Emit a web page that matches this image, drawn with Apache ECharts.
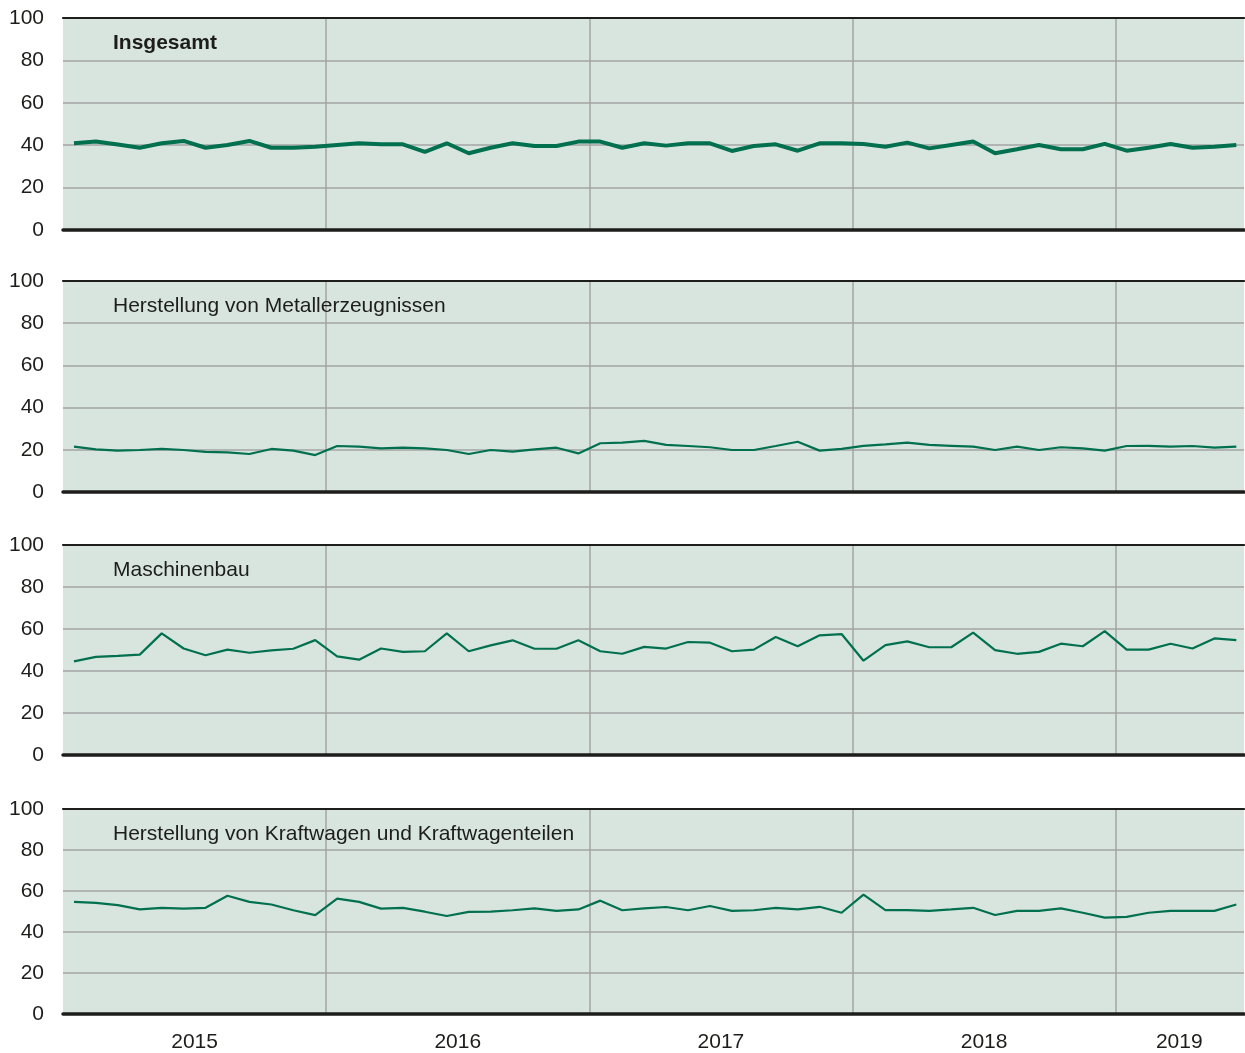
<!DOCTYPE html>
<html>
<head>
<meta charset="utf-8">
<script src="https://cdn.jsdelivr.net/npm/echarts@6/dist/echarts.min.js"></script>
<style>
html,body{margin:0;padding:0;background:#fff;}
#c{width:1245px;height:1053px;}
</style>
</head>
<body>
<div id="c"></div>
<script>
// Monthly values Jan 2015 – Jun 2019 (54 months)
const panelTitles = ['Insgesamt', 'Herstellung von Metallerzeugnissen', 'Maschinenbau', 'Herstellung von Kraftwagen und Kraftwagenteilen'];
const insgesamt = [40.9,41.7,40.3,38.8,40.9,42.0,38.8,40.1,42.0,38.8,38.8,39.3,40.1,40.9,40.4,40.4,36.9,40.9,36.2,38.8,40.9,39.6,39.6,41.7,41.7,38.8,40.9,39.8,40.9,40.9,37.3,39.6,40.4,37.4,40.9,40.9,40.6,39.3,41.2,38.5,40.1,41.7,36.2,38.1,40.1,38.1,38.1,40.6,37.4,38.8,40.6,38.8,39.3,40.1];
const metall = [21.5,20.2,19.6,19.9,20.4,19.9,19.0,18.8,18.0,20.4,19.6,17.5,21.8,21.5,20.7,21.0,20.7,19.9,18.0,19.9,19.1,20.2,21.0,18.3,23.1,23.4,24.2,22.3,21.8,21.2,19.9,19.9,21.8,23.8,19.6,20.4,21.9,22.6,23.4,22.3,21.9,21.5,19.9,21.5,19.9,21.2,20.7,19.6,21.8,21.9,21.5,21.8,21.0,21.5];
const maschinenbau = [44.6,46.7,47.2,47.8,57.9,50.7,47.5,50.2,48.7,49.8,50.6,54.7,47.0,45.4,50.7,49.1,49.4,57.9,49.4,52.2,54.6,50.6,50.6,54.6,49.4,48.2,51.5,50.7,53.8,53.5,49.4,50.2,56.2,51.8,57.0,57.6,44.9,52.3,54.1,51.3,51.3,58.3,49.9,48.2,49.1,53.0,51.8,59.0,50.2,50.2,53.0,50.7,55.5,54.7];
const kraftwagen = [54.7,54.2,53.1,51.0,51.8,51.4,51.8,57.7,54.7,53.4,50.6,48.2,56.3,54.7,51.4,51.8,49.9,47.8,49.8,49.9,50.6,51.5,50.3,51.0,55.3,50.6,51.5,52.2,50.6,52.7,50.3,50.6,51.8,51.0,52.3,49.4,58.2,50.7,50.7,50.3,51.0,51.8,48.3,50.3,50.3,51.5,49.4,47.0,47.4,49.4,50.3,50.3,50.3,53.4];
const yearLabels = ['2015', '2016', '2017', '2018', '2019'];
const yearLabelPos = [6, 18, 30, 42, 50.9];   // month position of each year label
const yTicks = [0, 20, 40, 60, 80, 100];

const seriesData = [insgesamt, metall, maschinenbau, kraftwagen];
const gridTops = [18, 281, 545, 809];
const gridHeights = [212, 211, 210, 209];
const X_MAX = 53.85;
const FONT = '"Liberation Sans", Arial, sans-serif';
const TXT = '#1d1d1b';

const grids = [], xAxes = [], yAxes = [], series = [], titles = [];
for (let p = 0; p < 4; p++) {
  grids.push({left: 63, right: 1, top: gridTops[p], height: gridHeights[p], show: true, backgroundColor: '#d8e5de', borderWidth: 0});
  xAxes.push({
    type: 'value', gridIndex: p, min: 0, max: X_MAX, interval: 12, position: 'bottom',
    axisLine: {show: true, onZero: false, lineStyle: {color: '#1d1d1b', width: 3.5}},
    axisTick: {show: false},
    splitLine: {show: true, showMinLine: false, showMaxLine: false, lineStyle: {color: '#a3a5a4', width: 1.5}},
    axisLabel: p === 3 ? {
      show: true, customValues: yearLabelPos, margin: 18, fontSize: 21, color: TXT, fontFamily: FONT,
      formatter: function (v) { const k = yearLabelPos.indexOf(v); return k >= 0 ? yearLabels[k] : ''; }
    } : {show: false},
    z: 3
  });
  xAxes.push({
    type: 'value', gridIndex: p, min: 0, max: X_MAX, position: 'top',
    axisLine: {show: true, onZero: false, lineStyle: {color: '#1d1d1b', width: 2.2}},
    axisTick: {show: false}, axisLabel: {show: false}, splitLine: {show: false}, z: 3
  });
  yAxes.push({
    type: 'value', gridIndex: p, min: yTicks[0], max: yTicks[yTicks.length - 1], interval: 20,
    axisLine: {show: false}, axisTick: {show: false},
    axisLabel: {fontSize: 21, color: TXT, fontFamily: FONT, margin: 19},
    splitLine: {show: true, lineStyle: {color: '#a3a5a4', width: 1.5}}
  });
  series.push({
    type: 'line', xAxisIndex: p * 2, yAxisIndex: p,
    data: seriesData[p].map((v, i) => [i + 0.5, v]),
    symbol: 'none', smooth: false,
    lineStyle: {color: '#00704f', width: p === 0 ? 4 : 2.2},
    z: 4, animation: false
  });
  titles.push({
    text: panelTitles[p], left: 113, top: gridTops[p] + 15, padding: 0,
    textStyle: {fontSize: 21, fontWeight: p === 0 ? 'bold' : 'normal', color: TXT, fontFamily: FONT}
  });
}

const chart = echarts.init(document.getElementById('c'), null, {renderer: 'canvas'});
chart.setOption({
  animation: false,
  backgroundColor: '#ffffff',
  title: titles,
  grid: grids,
  xAxis: xAxes,
  yAxis: yAxes,
  series: series
});
</script>
</body>
</html>
